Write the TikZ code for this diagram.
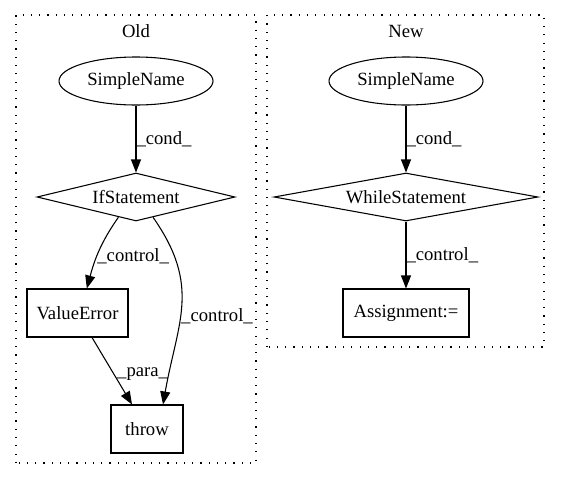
\documentclass[tikz,border=0pt]{standalone}
\usepackage{fontspec}
\setmainfont{Liberation Serif}
\usetikzlibrary{arrows.meta,shapes.geometric}

\begin{document}
\begin{tikzpicture}[x=0.75pt, y=0.75pt,
    every node/.style={font=\fontsize{14}{16}\selectfont},
    namenode/.style={draw, ellipse, line width=0.8pt, minimum width=115.5pt, minimum height=36pt, inner sep=0pt},
    stmtnode/.style={draw, diamond, line width=0.8pt, shape aspect=4.5, minimum height=36pt, inner sep=0pt},
    boxnode/.style={draw, rectangle, line width=0.8pt, minimum height=36pt, inner sep=0pt},
    flow/.style={-{Triangle[length=9.75pt, width=7.5pt]}, line width=0.8pt},
    elabel/.style={anchor=west, inner sep=0pt},
    cluster/.style={line width=0.9pt, dash pattern=on 0.9pt off 5.3pt}]
    \useasboundingbox (0,0) rectangle (563,480);

    % Draw cluster frames
    \draw[cluster] (16,17) rectangle (256,465);
    \draw[cluster] (267,133) rectangle (544,465);
    \node (oldtitle) at (136,449) {Old};
    \node (newtitle) at (406,449) {New};

    % Old version
    \node[namenode] (sn1) at (136,399) {SimpleName};
    \node[stmtnode, minimum width=148.5pt] (ifst) at (136,283) {IfStatement};
    \node[boxnode, minimum width=75.75pt] (valerr) at (77.5,167) {ValueError};
    \node[boxnode, minimum width=54pt] (thr) at (147,51) {throw};

    \draw[flow] (sn1) -- node[elabel] {\_cond\_} (ifst);
    \draw[flow] (ifst.229) to[out=-125, in=75] node[elabel, pos=0.58] {\_control\_} ([xshift=7pt]valerr.north);
    \draw[flow] (ifst.-50) to[out=-55, in=80, looseness=1.15] node[elabel, pos=0.56] {\_control\_} ([xshift=12pt]thr.north);
    \draw[flow] ([xshift=10.9pt]valerr.south) -- node[elabel, pos=0.55, xshift=2pt] {\_para\_} ([xshift=-11.25pt]thr.north);

    % New version
    \node[namenode] (sn2) at (406,399) {SimpleName};
    \node[stmtnode, minimum width=198pt] (whst) at (406,283) {WhileStatement};
    \node[boxnode, minimum width=94.5pt] (assign) at (406,167) {Assignment:=};

    \draw[flow] (sn2) -- node[elabel] {\_cond\_} (whst);
    \draw[flow] (whst) -- node[elabel] {\_control\_} (assign);
\end{tikzpicture}
\end{document}
